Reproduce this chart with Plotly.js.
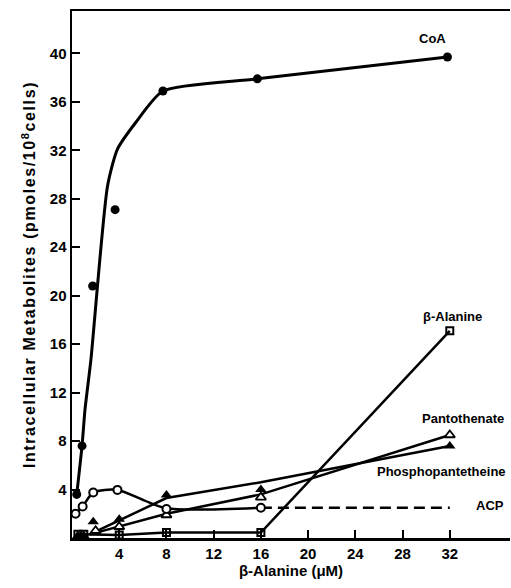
<!DOCTYPE html>
<html>
<head>
<meta charset="utf-8">
<script src="https://cdn.plot.ly/plotly-3.0.1.min.js"></script>
<style>html,body{margin:0;padding:0;background:#fff;}#chart{width:511px;height:588px;}
.ytitle{letter-spacing:1.6px;}</style>
</head>
<body>
<div id="chart"></div>
<script>
// ---- data ----
// CoA measured points
const coaX = [0.4, 0.85, 1.75, 3.65, 7.7, 15.7, 31.8];
const coaY = [3.6, 7.6, 20.8, 27.1, 36.9, 37.9, 39.7];
// CoA drawn curve
const coaCurveX = [0.4, 0.85, 1.1, 1.6, 3.0, 3.85, 5.4, 7.7, 15.7, 31.8];
const coaCurveY = [3.6, 7.6, 10.6, 14.7, 29.0, 32.1, 34.3, 36.9, 37.9, 39.7];
// ACP (open circles)
const acpX = [0.3, 0.9, 1.8, 3.85, 8, 16];
const acpY = [2.0, 2.6, 3.75, 3.97, 2.4, 2.5];
// ACP drawn curve
const acpCurveX = [0.3, 0.9, 1.8, 3.85, 6.1, 8, 16];
const acpCurveY = [2.0, 2.6, 3.75, 3.97, 3.1, 2.45, 2.5];
const acpDashX = [16, 32];
const acpDashY = [2.5, 2.5];
// Phosphopantetheine (filled triangles)
const phosX = [0.5, 1, 1.8, 4, 8, 16, 32];
const phosY = [0.2, 0.2, 1.35, 1.55, 3.55, 4.0, 7.6];
const phosLineX = [1.5, 8, 16, 32];
const phosLineY = [0.3, 3.3, 4.6, 7.6];
// Pantothenate (open triangles)
const pantX = [2, 4, 8, 16, 32];
const pantY = [0.6, 0.93, 1.9, 3.36, 8.5];
const pantLineX = [1.5, 4, 8, 16, 32];
const pantLineY = [0.3, 0.95, 2.0, 3.6, 8.5];
// beta-Alanine (open squares)
const balaX = [0.5, 1, 4, 8, 16, 32];
const balaY = [0.3, 0.3, 0.25, 0.45, 0.45, 17.1];
// tick labels
const xTicks = [4, 8, 12, 16, 20, 24, 28, 32];
const yTicks = [4, 8, 12, 16, 20, 24, 28, 32, 36, 40];
// series labels
const labelText = ['CoA', 'β-Alanine', 'Pantothenate', 'Phosphopantetheine', 'ACP'];
const labelX = [30.5, 32.2, 33.1, 36.9, 35.4];
const labelY = [41.2, 18.3, 9.9, 5.45, 2.7];
const labelAnchor = ['center', 'center', 'center', 'right', 'center'];

const K = '#000';
const traces = [
  {x: balaX, y: balaY, mode: 'lines', line: {color: K, width: 2.5}, hoverinfo: 'skip'},
  {x: phosLineX, y: phosLineY, mode: 'lines', line: {color: K, width: 2.5}, hoverinfo: 'skip'},
  {x: pantLineX, y: pantLineY, mode: 'lines', line: {color: K, width: 2.5}, hoverinfo: 'skip'},
  {x: acpCurveX, y: acpCurveY, mode: 'lines', line: {color: K, width: 2.5, shape: 'spline', smoothing: 0.8}, hoverinfo: 'skip'},
  {x: acpDashX, y: acpDashY, mode: 'lines', line: {color: K, width: 2.5, dash: '11px,6px'}, hoverinfo: 'skip'},
  {x: coaCurveX, y: coaCurveY, mode: 'lines', line: {color: K, width: 3, shape: 'spline', smoothing: 0.6}, hoverinfo: 'skip'},
  {x: balaX, y: balaY, mode: 'markers', marker: {symbol: 'square-open', size: 7, color: K, line: {width: 2}}},
  {x: pantX, y: pantY, mode: 'markers', marker: {symbol: 'triangle-up', size: 9, color: '#fff', line: {color: K, width: 1.8}}},
  {x: phosX, y: phosY, mode: 'markers', marker: {symbol: 'triangle-up', size: 10, color: K}},
  {x: acpX, y: acpY, mode: 'markers', marker: {symbol: 'circle', size: 8, color: '#fff', line: {color: K, width: 2}}},
  {x: coaX, y: coaY, mode: 'markers', marker: {symbol: 'circle', size: 9, color: K}}
];

const annotations = labelText.map((t, i) => ({
  x: labelX[i], y: labelY[i], xref: 'x', yref: 'y', text: t, showarrow: false,
  font: {family: 'Liberation Sans, Arial, sans-serif', size: 13, color: K, weight: 'bold'},
  xanchor: labelAnchor[i], yanchor: 'middle'
}));

const layout = {
  width: 511, height: 588,
  margin: {l: 72, r: 1, t: 11, b: 50},
  paper_bgcolor: '#fff', plot_bgcolor: '#fff',
  showlegend: false,
  font: {family: 'Liberation Sans, Arial, sans-serif', color: K},
  xaxis: {
    range: [0, 37.1], tickvals: xTicks, ticktext: xTicks.map(String),
    ticks: 'inside', ticklen: 8, tickwidth: 2, tickcolor: K,
    showline: true, linewidth: 2.5, linecolor: K, mirror: true,
    showgrid: false, zeroline: false,
    tickfont: {size: 15, weight: 'bold'},
    title: {text: 'β-Alanine (μM)', font: {size: 15, weight: 'bold'}, standoff: 3}
  },
  yaxis: {
    range: [0, 43.5], tickvals: yTicks, ticktext: yTicks.map(String),
    ticks: 'inside', ticklen: 8, tickwidth: 2, tickcolor: K,
    showline: true, linewidth: 2.5, linecolor: K,
    showgrid: false, zeroline: false,
    tickfont: {size: 15, weight: 'bold'},
    title: {text: 'Intracellular Metabolites (pmoles/10<sup>8</sup>cells)', font: {size: 16, weight: 'bold'}, standoff: 10}
  },
  annotations: annotations
};

Plotly.newPlot('chart', traces, layout, {staticPlot: true, displayModeBar: false});
</script>
</body>
</html>
